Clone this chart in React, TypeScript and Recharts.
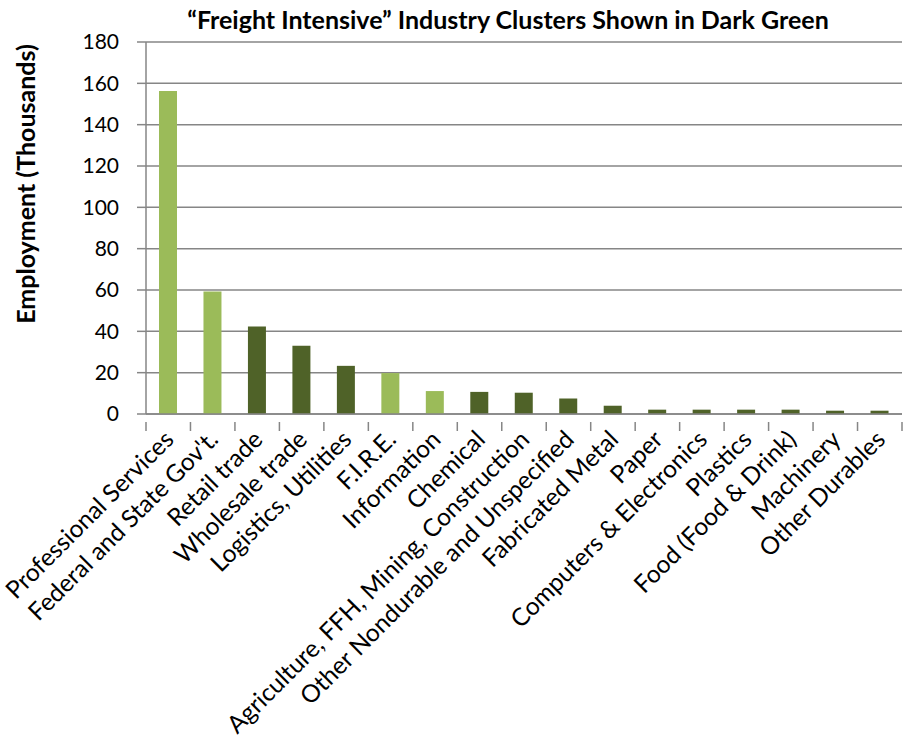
import React from 'react';
import { BarChart, Bar, XAxis, YAxis, CartesianGrid, Cell } from 'recharts';

const categories = [
  'Professional Services',
  "Federal and State Gov't.",
  'Retail trade',
  'Wholesale trade',
  'Logistics, Utilities',
  'F.I.R.E.',
  'Information',
  'Chemical',
  'Agriculture, FFH, Mining, Construction',
  'Other Nondurable and Unspecified',
  'Fabricated Metal',
  'Paper',
  'Computers & Electronics',
  'Plastics',
  'Food (Food & Drink)',
  'Machinery',
  'Other Durables',
];

const employment = [156.3, 59.3, 42.3, 33.0, 23.3, 19.8, 11.1, 10.7, 10.3, 7.5, 4.0, 2.1, 2.1, 2.1, 2.1, 1.6, 1.6];

const freightIntensive = [false, false, true, true, true, false, false, true, true, true, true, true, true, true, true, true, true];

const yTicks = [0, 20, 40, 60, 80, 100, 120, 140, 160, 180];

const data = categories.map((name, i) => ({ name, value: employment[i], freight: freightIntensive[i] }));

const W = 911;
const H = 745;
const LEFT = 146;
const RIGHT = 9;
const TOP = 42;
const BOTTOM_AXIS = 331;
const FONT = 'Lato, "Open Sans", sans-serif';
const GRID = '#868686';
const LIGHT = '#9BBB59';
const DARK = '#4F6228';

const halfBand = (W - LEFT - RIGHT) / categories.length / 2;

const XTick = (props: any) => {
  const { x, y, payload, index } = props;
  const last = index === categories.length - 1;
  const tx = x + 7;
  const ty = y + 19;
  return (
    <g>
      <line x1={x - halfBand} y1={y} x2={x - halfBand} y2={y + 9} stroke={GRID} strokeWidth={1.5} />
      {last && <line x1={x + halfBand} y1={y} x2={x + halfBand} y2={y + 9} stroke={GRID} strokeWidth={1.5} />}
      <text
        x={tx}
        y={ty}
        textAnchor="end"
        transform={`rotate(-45 ${tx} ${ty})`}
        fontSize={24.5}
        fontFamily={FONT}
        fill="#000"
      >
        {payload.value}
      </text>
    </g>
  );
};

export default function App() {
  return (
    <div style={{ position: 'absolute', left: 0, top: 0, width: W, height: H, background: '#fff' }}>
      <div
        style={{
          position: 'absolute',
          left: 0,
          top: 4,
          width: 1016,
          textAlign: 'center',
          fontFamily: FONT,
          fontWeight: 700,
          fontSize: 25,
          color: '#000',
          whiteSpace: 'nowrap',
        }}
      >
        “Freight Intensive” Industry Clusters Shown in Dark Green
      </div>
      <div
        style={{
          position: 'absolute',
          left: 25,
          top: 184,
          transform: 'translate(-50%, -50%) rotate(-90deg)',
          whiteSpace: 'nowrap',
          fontFamily: FONT,
          fontWeight: 700,
          fontSize: 25,
          color: '#000',
        }}
      >
        Employment (Thousands)
      </div>
      <BarChart width={W} height={H} data={data} margin={{ top: TOP, right: RIGHT, left: 0, bottom: 0 }}>
        <CartesianGrid vertical={false} stroke={GRID} strokeWidth={1.5} />
        <XAxis
          dataKey="name"
          interval={0}
          height={BOTTOM_AXIS}
          tickLine={false}
          axisLine={{ stroke: GRID, strokeWidth: 1.5 }}
          tick={<XTick />}
        />
        <YAxis
          domain={[0, 180]}
          ticks={yTicks}
          width={LEFT}
          tickSize={9}
          tickMargin={18}
          tickLine={{ stroke: GRID, strokeWidth: 1.5 }}
          axisLine={{ stroke: GRID, strokeWidth: 1.5 }}
          tick={{ fontSize: 21, fontFamily: FONT, fill: '#000' }}
        />
        <Bar dataKey="value" barSize={18} isAnimationActive={false}>
          {data.map((d, i) => (
            <Cell key={i} fill={d.freight ? DARK : LIGHT} />
          ))}
        </Bar>
      </BarChart>
    </div>
  );
}
